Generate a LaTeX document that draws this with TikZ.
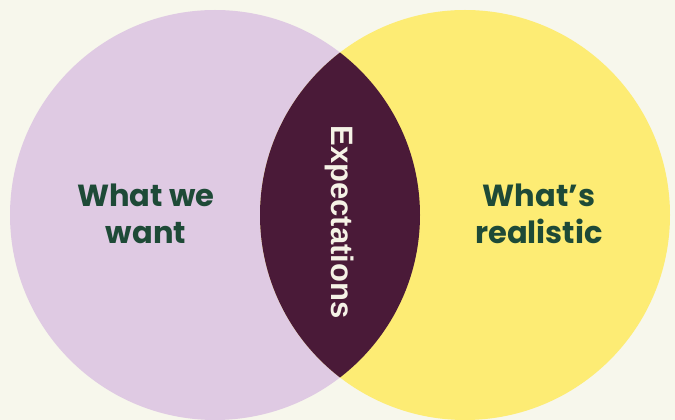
\documentclass[tikz,border=0pt]{standalone}
\usepackage{fontspec}
\newfontfamily\labelfont{Poppins}
\newfontfamily\lensfont{Liberation Sans}
\definecolor{Backdrop}{HTML}{F7F7EC}
\definecolor{WantSurface}{HTML}{DFCAE3}
\definecolor{RealSurface}{HTML}{FDEC74}
\definecolor{LensSurface}{HTML}{4A1A38}
\definecolor{LabelInk}{HTML}{1E4A37}
\definecolor{LensInk}{HTML}{F5F2E6}

\begin{document}
\begin{tikzpicture}[x = 1pt, y = 1pt,
    side label/.style = {text = LabelInk, align = center, font = \labelfont\bfseries\fontsize{30.5}{37}\selectfont},
    lens label/.style = {text = LensInk, rotate = -90, font = \lensfont\bfseries\fontsize{31}{34}\selectfont}]

\fill[Backdrop] (0, 0) rectangle (675, 420);
\useasboundingbox (0, 0) rectangle (675, 420);

\coordinate (L) at (215, 205);
\coordinate (R) at (465, 205);
\fill[WantSurface] (L) circle (205);
\fill[RealSurface] (R) circle (205);
\begin{scope}
    \clip (L) circle (205);
    \fill[LensSurface] (R) circle (205);
\end{scope}

\node[side label] (want) at (146, 206) {What we\\want};
\node[side label] (real) at (539, 206) {What’s\\realistic};
\node[lens label] (expect) at (340, 198) {Expectations};

\end{tikzpicture}
\end{document}
